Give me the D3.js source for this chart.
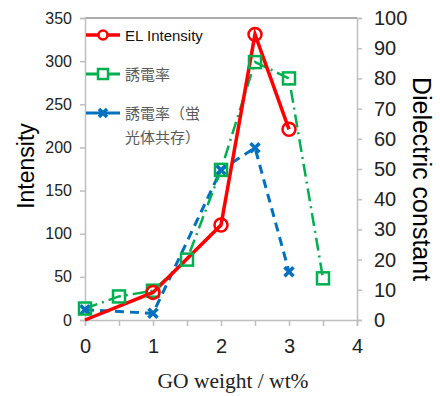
<!DOCTYPE html>
<html>
<head>
<meta charset="utf-8">
<script src="https://cdn.jsdelivr.net/npm/d3@7"></script>
<style>
  body { margin: 0; background: #fff; }
  svg { display: block; font-family: "Liberation Sans", Arial, sans-serif; }
</style>
</head>
<body>
<div id="chart"></div>
<script>
// data
const elX = [0, 1, 2, 2.5, 3];
const elIntensity = [0, 32, 110, 331, 221];

const dielX = [0, 0.5, 1, 1.5, 2, 2.5, 3, 3.5];
const dielectric = [3.8, 7.8, 9.7, 20, 49.7, 85.4, 80, 13.8];

const dielPhX = [0, 1, 2, 2.5, 3];
const dielectricPhosphor = [3.4, 2.2, 49.7, 57, 16];

const leftTicks = [0, 50, 100, 150, 200, 250, 300, 350];
const rightTicks = [0, 10, 20, 30, 40, 50, 60, 70, 80, 90, 100];
const xTicks = [0, 1, 2, 3, 4];
const xMinorTicks = [0, 0.5, 1, 1.5, 2, 2.5, 3, 3.5, 4];

const width = 440, height = 396;
const plotLeft = 85, plotRight = 357, plotTop = 18, plotBottom = 320;

const red = '#ff0000', green = '#00b050', blue = '#0070c0';

const xScale = d3.scaleLinear().domain([0, 4]).range([plotLeft, plotRight]);
const yLeft = d3.scaleLinear().domain([0, 350]).range([plotBottom, plotTop]);
const yRight = d3.scaleLinear().domain([0, 100]).range([plotBottom, plotTop]);

const svg = d3.select('#chart').append('svg')
    .attr('width', width)
    .attr('height', height);

// top frame line
svg.append('line')
    .attr('x1', plotLeft).attr('x2', plotRight)
    .attr('y1', plotTop).attr('y2', plotTop)
    .attr('stroke', '#595959').attr('stroke-width', 1);

// left axis
const gLeft = svg.append('g')
    .attr('transform', `translate(${plotLeft},0)`)
    .call(d3.axisLeft(yLeft).tickValues(leftTicks).tickSize(5).tickPadding(8));
gLeft.selectAll('text').style('font-size', '16px').attr('fill', '#222');

// right axis
const gRight = svg.append('g')
    .attr('transform', `translate(${plotRight},0)`)
    .call(d3.axisRight(yRight).tickValues(rightTicks).tickSize(5).tickPadding(12));
gRight.selectAll('text').style('font-size', '20px').attr('fill', '#222');

// bottom axis, minor ticks + labels
const gBottom = svg.append('g')
    .attr('transform', `translate(0,${plotBottom})`)
    .call(d3.axisBottom(xScale).tickValues(xMinorTicks).tickSize(6).tickFormat(''));
const gBottomLabels = svg.append('g')
    .attr('transform', `translate(0,${plotBottom})`)
    .call(d3.axisBottom(xScale).tickValues(xTicks).tickSize(0).tickPadding(19).tickFormat(d3.format('d')));
gBottomLabels.select('.domain').remove();
gBottomLabels.selectAll('text').style('font-size', '20px').attr('fill', '#222');

[gLeft, gRight, gBottom].forEach(g => {
  g.select('.domain').attr('stroke', '#bfbfbf').attr('stroke-width', 1.5);
  g.selectAll('.tick line').attr('stroke', '#bfbfbf').attr('stroke-width', 1.5);
});

// axis titles
svg.append('text')
    .attr('transform', `translate(34,166) rotate(-90)`)
    .attr('text-anchor', 'middle')
    .style('font-size', '23px')
    .text('Intensity');

svg.append('text')
    .attr('transform', `translate(413,179) rotate(90)`)
    .attr('text-anchor', 'middle')
    .style('font-size', '25px')
    .text('Dielectric constant');

svg.append('text')
    .attr('x', 233).attr('y', 388)
    .attr('text-anchor', 'middle')
    .style('font-family', '"Liberation Serif", "Times New Roman", serif')
    .style('font-size', '21.5px')
    .attr('fill', '#222')
    .text('GO weight / wt%');

// series
const elData = elX.map((x, i) => ({ x: x, y: elIntensity[i] }));
const dielData = dielX.map((x, i) => ({ x: x, y: dielectric[i] }));
const phData = dielPhX.map((x, i) => ({ x: x, y: dielectricPhosphor[i] }));

const plot = svg.append('g');

// blue dashed
plot.append('path')
    .datum(phData)
    .attr('fill', 'none')
    .attr('stroke', blue).attr('stroke-width', 3)
    .attr('stroke-dasharray', '9,6')
    .attr('d', d3.line().x(d => xScale(d.x)).y(d => yRight(d.y)));

// green dash-dot
plot.append('path')
    .datum(dielData)
    .attr('fill', 'none')
    .attr('stroke', green).attr('stroke-width', 2.5)
    .attr('stroke-dasharray', '13,5,2,5')
    .attr('d', d3.line().x(d => xScale(d.x)).y(d => yRight(d.y)));

// red solid
plot.append('path')
    .datum(elData)
    .attr('fill', 'none')
    .attr('stroke', red).attr('stroke-width', 3.5)
    .attr('d', d3.line().x(d => xScale(d.x)).y(d => yLeft(d.y)));

// markers
const xMark = (g, cx, cy, s) => {
  g.append('path')
      .attr('d', `M${cx - s},${cy - s}L${cx + s},${cy + s}M${cx - s},${cy + s}L${cx + s},${cy - s}`)
      .attr('stroke', blue).attr('stroke-width', 3.5).attr('fill', 'none');
};

phData.forEach(d => xMark(plot, xScale(d.x), yRight(d.y), 4.5));

plot.selectAll('rect.diel')
    .data(dielData)
    .enter().append('rect')
    .attr('class', 'diel')
    .attr('x', d => xScale(d.x) - 6)
    .attr('y', d => yRight(d.y) - 6)
    .attr('width', 12).attr('height', 12)
    .attr('fill', 'none')
    .attr('stroke', green).attr('stroke-width', 2.5);

plot.selectAll('circle.el')
    .data(elData.filter(d => d.y > 0))
    .enter().append('circle')
    .attr('class', 'el')
    .attr('cx', d => xScale(d.x))
    .attr('cy', d => yLeft(d.y))
    .attr('r', 6.5)
    .attr('fill', 'none')
    .attr('stroke', red).attr('stroke-width', 2.5);

// legend
const legend = svg.append('g');
const lx1 = 86, lx2 = 120, lmid = 103;

legend.append('line').attr('x1', lx1).attr('x2', lx2).attr('y1', 35).attr('y2', 35)
    .attr('stroke', red).attr('stroke-width', 3.5);
legend.append('circle').attr('cx', lmid).attr('cy', 35).attr('r', 4.5)
    .attr('fill', '#fff').attr('stroke', red).attr('stroke-width', 2.5);
legend.append('text').attr('x', 125).attr('y', 41)
    .style('font-size', '15px').attr('fill', '#111').text('EL Intensity');

legend.append('line').attr('x1', lx1).attr('x2', lx2).attr('y1', 74).attr('y2', 74)
    .attr('stroke', green).attr('stroke-width', 3);
legend.append('rect').attr('x', lmid - 5).attr('y', 69).attr('width', 10).attr('height', 10)
    .attr('fill', '#fff').attr('stroke', green).attr('stroke-width', 2.5);
legend.append('text').attr('x', 125).attr('y', 80)
    .style('font-family', '"Noto Sans CJK JP", sans-serif')
    .style('font-size', '15px').attr('fill', '#595959').text('誘電率');

legend.append('line').attr('x1', lx1).attr('x2', lx2).attr('y1', 113).attr('y2', 113)
    .attr('stroke', blue).attr('stroke-width', 3);
xMark(legend, lmid, 113, 4);
legend.append('text').attr('x', 125).attr('y', 119)
    .style('font-family', '"Noto Sans CJK JP", sans-serif')
    .style('font-size', '15px').attr('fill', '#595959').text('誘電率（蛍');
legend.append('text').attr('x', 125).attr('y', 143)
    .style('font-family', '"Noto Sans CJK JP", sans-serif')
    .style('font-size', '15px').attr('fill', '#595959').text('光体共存）');
</script>
</body>
</html>
